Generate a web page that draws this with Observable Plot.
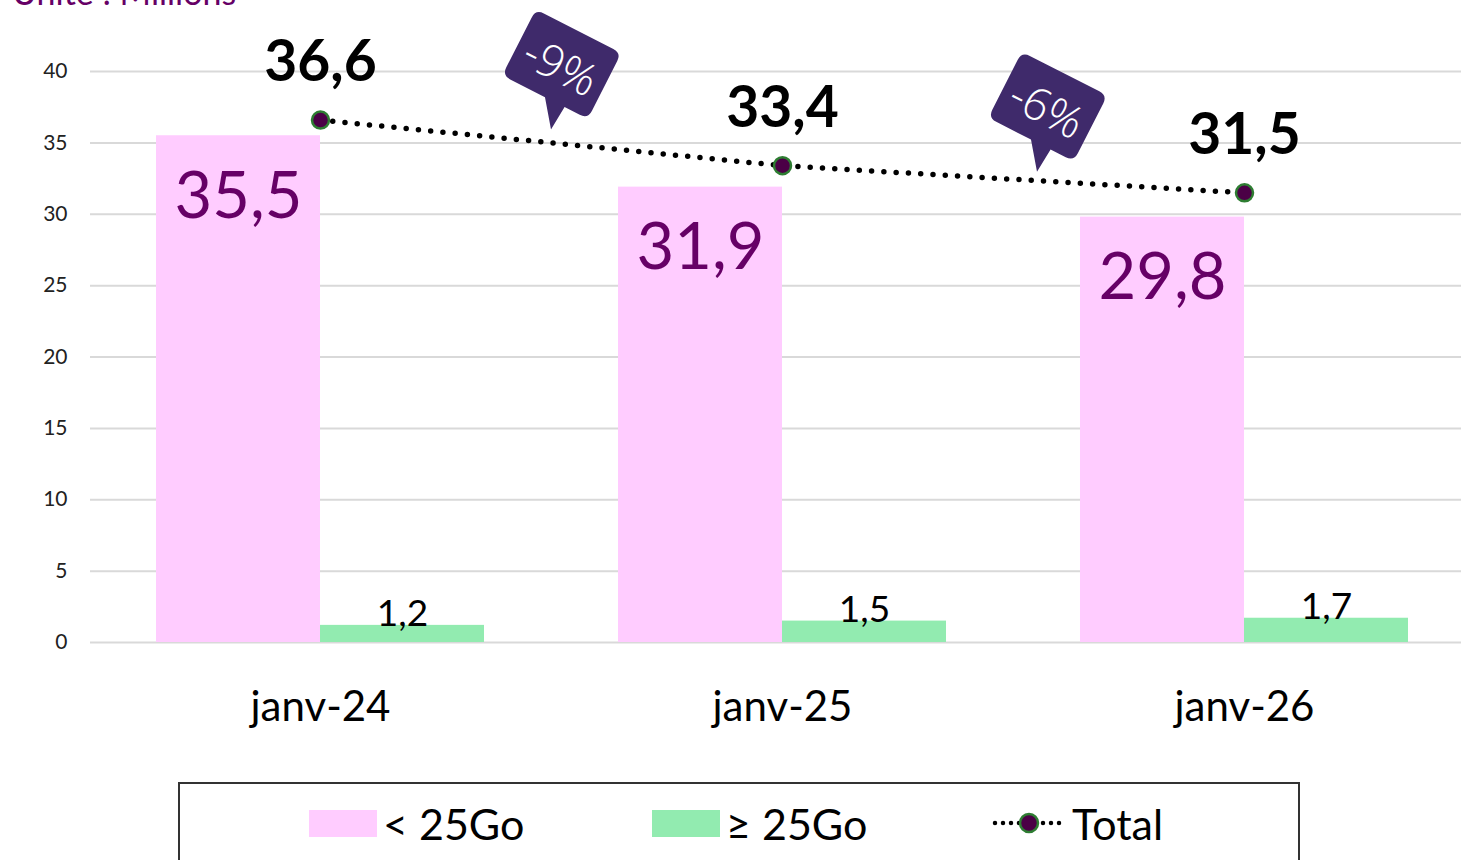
<!DOCTYPE html>
<html>
<head>
<meta charset="utf-8">
<script src="https://cdn.jsdelivr.net/npm/d3@7"></script>
<script src="https://cdn.jsdelivr.net/npm/@observablehq/plot@0.6"></script>
<style>
  html, body { margin: 0; padding: 0; background: #fff; overflow: hidden; }
  #wrap { position: relative; width: 1461px; height: 860px; font-family: Lato, "Open Sans", sans-serif; }
  #title { position: absolute; left: 12px; top: -25px; font-size: 34px; line-height: 1; color: #660066; white-space: nowrap; }
  #chart { position: absolute; left: 0; top: 0; }
  #legend { position: absolute; left: 178px; top: 782px; width: 1122px; height: 120px; border: 2px solid #333; box-sizing: border-box; }
  .item { position: absolute; top: 14px; height: 50px; display: flex; align-items: center; font-size: 43px; color: #000; white-space: nowrap; }
  .sw { width: 68px; height: 27px; margin-right: 6px; }
</style>
</head>
<body>
<div id="wrap">
  <div id="title">Unité : Millions</div>
  <div id="chart"></div>
  <div id="legend">
    <div class="item" style="left:129px"><div class="sw" style="background:#FFCCFF"></div>&lt; 25Go</div>
    <div class="item" style="left:472px"><div class="sw" style="background:#92EBB0"></div>≥ 25Go</div>
    <div class="item" style="left:812px">
      <svg width="72" height="30" style="margin-right:8px">
        <line x1="3" y1="15" x2="70" y2="15" stroke="#000" stroke-width="4.5" stroke-dasharray="0 8" stroke-linecap="round"></line>
        <circle cx="37" cy="15" r="9" fill="#4B0046" stroke="#2E7D32" stroke-width="2.5"></circle>
      </svg>Total</div>
  </div>
</div>
<script>
// ---- data ----
const categories = ["janv-24", "janv-25", "janv-26"];
const small = [35.5, 31.9, 29.8];   // < 25Go
const large = [1.2, 1.5, 1.7];      // ≥ 25Go
const total = [36.6, 33.4, 31.5];   // Total
const changes = ["-9%", "-6%"];
const yTicks = [0, 5, 10, 15, 20, 25, 30, 35, 40];

const rows = categories.map((cat, i) => ({cat, small: small[i], large: large[i], total: total[i]}));
const fmt = v => d3.format(".1f")(v).replace(".", ",");

// callout styling (tip offset from segment midpoint, px)
const calloutOffsets = [[0, -13], [24, -7]];

function callouts(index, scales) {
  const x = scales.x, y = scales.y;
  const bw = typeof x.bandwidth === "function" ? x.bandwidth() : (x.bandwidth || 0);
  const cx = c => x(c) + bw / 2;
  const g = d3.create("svg:g");
  const w = 48, h = 37, r = 9;
  const path = `M${-w + r},${-h} H${w - r} Q${w},${-h} ${w},${-h + r} V${h - r} Q${w},${h} ${w - r},${h} H22 L20,63 L0,${h} H${-w + r} Q${-w},${h} ${-w},${h - r} V${-h + r} Q${-w},${-h} ${-w + r},${-h} Z`;
  changes.forEach((lab, i) => {
    const tx = (cx(categories[i]) + cx(categories[i + 1])) / 2 + calloutOffsets[i][0];
    const ty = y((total[i] + total[i + 1]) / 2) + calloutOffsets[i][1];
    const gg = g.append("g").attr("transform", `translate(${tx},${ty}) rotate(27) translate(-20,-63)`);
    gg.append("path").attr("d", path).attr("fill", "#3F2A6B");
    gg.append("text").attr("x", 0).attr("y", 1)
      .attr("text-anchor", "middle").attr("dominant-baseline", "central")
      .attr("fill", "#fff").attr("font-size", 45).attr("font-weight", 300)
      .attr("font-family", "'Open Sans', Lato, sans-serif")
      .text(lab);
  });
  return g.node();
}

const chart = Plot.plot({
  width: 1461,
  height: 770,
  marginLeft: 90,
  marginRight: 0,
  marginTop: 71,
  marginBottom: 128,
  style: {fontFamily: "Lato, 'Open Sans', sans-serif", background: "transparent", overflow: "visible"},
  x: {type: "band", domain: categories, range: [88, 1475.5], paddingInner: 0.291, paddingOuter: 0.1455, label: null},
  y: {domain: [0, 40], label: null},
  marks: [
    Plot.gridY(yTicks, {stroke: "#d9d9d9", strokeOpacity: 1, strokeWidth: 2}),
    Plot.axisY(yTicks, {tickSize: 0, tickPadding: 23, fontSize: 21, color: "#222", label: null}),
    Plot.axisX({tickSize: 0, tickPadding: 49, fontSize: 42, color: "#000", label: null}),
    Plot.barY(rows, {x: "cat", y: "small", fill: "#FFCCFF", insetRight: 164}),
    Plot.barY(rows, {x: "cat", y: "large", fill: "#92EBB0", insetLeft: 164}),
    Plot.text(rows, {x: "cat", y: "small", text: d => fmt(d.small), dx: -82, dy: 61, fontSize: 65, fill: "#660066"}),
    Plot.text(rows, {x: "cat", y: "large", text: d => fmt(d.large), dx: 82, dy: -11, fontSize: 37, fill: "#000"}),
    Plot.line(rows, {x: "cat", y: "total", stroke: "#000", strokeWidth: 5.5, strokeDasharray: "0 12.3", strokeLinecap: "round"}),
    Plot.dot(rows, {x: "cat", y: "total", r: 8.5, fill: "#4B0046", stroke: "#2E7D32", strokeWidth: 2.5}),
    Plot.text(rows, {x: "cat", y: "total", text: d => fmt(d.total), dy: -57, fontSize: 57, fontWeight: "bold", fill: "#000"}),
    callouts
  ]
});
document.getElementById("chart").appendChild(chart);
</script>
</body>
</html>
